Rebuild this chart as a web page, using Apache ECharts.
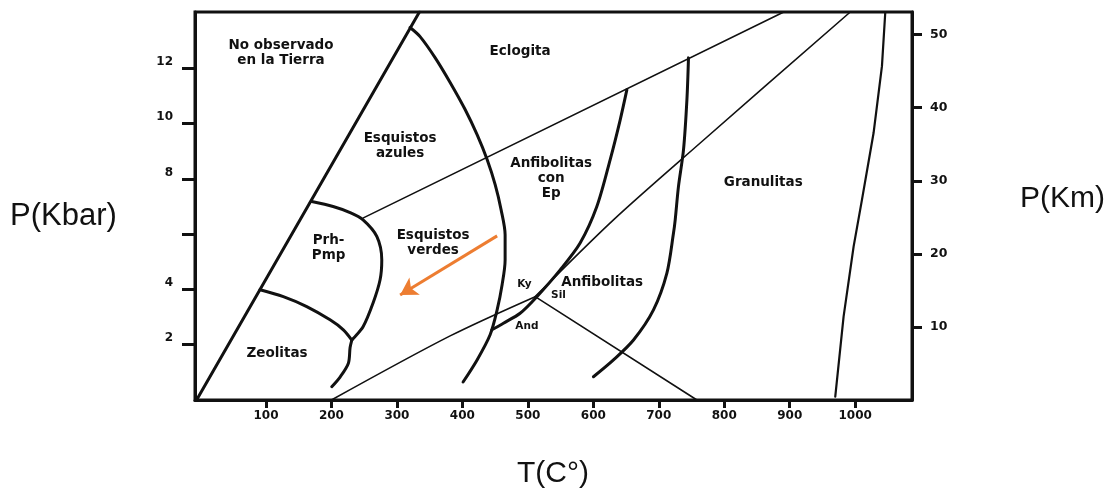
<!DOCTYPE html>
<html>
<head>
<meta charset="utf-8">
<script src="https://cdn.jsdelivr.net/npm/echarts@6/dist/echarts.min.js"></script>
<style>
  html, body { margin: 0; padding: 0; background: #fff; }
  #chart { width: 1113px; height: 493px; }
</style>
</head>
<body>
<div id="chart"></div>
<script>
// Axis ticks
const tempTicks = [100, 200, 300, 400, 500, 600, 700, 800, 900, 1000];
const kbarTicks = [2, 4, 6, 8, 10, 12];
const kbarLabels = [2, 4, 8, 10, 12];
const kmTicks = [10, 20, 30, 40, 50];

// Facies boundaries, points as [T (°C), P (kbar)]
const earthLimit = [[-6, 0], [334.4, 14.04]];
const eclogiteBoundary = [
  [320.1, 13.48], [335.4, 13.15], [358.3, 12.39], [381.3, 11.49], [404.2, 10.51],
  [422.5, 9.60], [437.8, 8.70], [450.1, 7.79], [459.2, 6.88], [465.3, 5.98],
  [465.3, 5.07], [460.7, 4.17], [453.1, 3.26], [442.4, 2.36], [422.5, 1.45], [401.1, 0.65]
];
const prhPmpUpper = [
  [169.9, 7.18], [202.5, 7.00], [228.5, 6.78], [248.3, 6.52], [269.3, 5.92],
  [276.9, 5.07], [274.3, 4.35], [263.6, 3.51], [248.3, 2.65], [231.1, 2.17]
];
const prhPmpLower = [[231.1, 2.17], [228.5, 1.90], [225.9, 1.33], [213.2, 0.83], [200.5, 0.48]];
const zeoliteBoundary = [
  [90.9, 3.99], [126.5, 3.74], [162.3, 3.38], [197.9, 2.90], [218.2, 2.54], [231.1, 2.17]
];
const blueschistLimit = [[248.8, 6.59], [890.9, 14.04]];
const amphiboliteBoundary = [
  [445.0, 2.54], [462.7, 2.78], [488.2, 3.14], [513.8, 3.74], [549.4, 4.71],
  [579.9, 5.68], [605.4, 7.00], [625.8, 8.70], [641.1, 10.14], [651.3, 11.23]
];
const granuliteBoundary = [
  [745.4, 12.38], [743.0, 10.87], [737.8, 9.06], [730.1, 7.73], [725.1, 6.52],
  [722.5, 6.04], [712.4, 4.59], [691.9, 3.26], [661.4, 2.17], [630.8, 1.45], [600.2, 0.84]
];
const meltingLimit = [
  [1046.0, 14.04], [1040.9, 12.08], [1028.1, 9.66], [1010.4, 7.25],
  [997.6, 5.55], [982.3, 3.02], [969.6, 0.12]
];

// Al2SiO5 polymorph reactions
const andKy = [[200, 0], [381.3, 2.32], [511.2, 3.74]];
const andSil = [[511.2, 3.74], [758.3, 0]];
const kySil = [[511.2, 3.74], [630.8, 6.52], [763.3, 9.30], [992.5, 14.04]];

// Retrograde path arrow: start, end
const pathStart = [453.1, 5.94];
const pathEnd = [304.9, 3.80];

// Field names: [text, T, P]
const faciesLabels = [
  ['No observado\nen la Tierra', 123.0, 12.55],
  ['Eclogita', 488.2, 12.61],
  ['Esquistos\nazules', 304.9, 9.20],
  ['Anfibolitas\ncon\nEp', 535.6, 8.03],
  ['Esquistos\nverdes', 355.3, 5.67],
  ['Prh-\nPmp', 195.6, 5.51],
  ['Zeolitas', 116.9, 1.70],
  ['Granulitas', 859.6, 7.88],
  ['Anfibolitas', 613.5, 4.24]
];
const mineralLabels = [
  ['Ky', 494.8, 4.17],
  ['Sil', 546.8, 3.80],
  ['And', 498.5, 2.68]
];

const INK = '#111';
const tickFont = function (size) {
  return { fontFamily: 'DejaVu Sans', fontWeight: 'bold', fontSize: size, color: '#111', formatter: function (v) { return String(v); } };
};

function boundary(data, width, smooth) {
  return {
    type: 'line', data: data, symbol: 'none', showSymbol: false,
    smooth: smooth, silent: true, z: 3,
    lineStyle: { color: INK, width: width, cap: 'round', join: 'round' }
  };
}

function textLayer(items, fontSize) {
  return {
    type: 'scatter', silent: true, z: 5,
    symbolSize: 1, itemStyle: { color: 'rgba(0,0,0,0)', opacity: 1 },
    data: items.map(function (d) { return { name: d[0], value: [d[1], d[2]] }; }),
    label: {
      show: true, position: 'inside', formatter: '{b}', align: 'center',
      fontFamily: 'DejaVu Sans', fontWeight: 'bold', fontSize: fontSize,
      lineHeight: 15, color: '#111', opacity: 1
    }
  };
}

const chart = echarts.init(document.getElementById('chart'), null, { renderer: 'canvas' });

chart.setOption({
  animation: false,
  backgroundColor: '#fff',
  grid: {
    left: 195, right: 201, top: 12, bottom: 93,
    show: true, borderColor: INK, borderWidth: 3, backgroundColor: 'transparent'
  },
  xAxis: {
    type: 'value', min: -8.4, max: 1086.8,
    axisLine: { show: true, onZero: false, lineStyle: { color: INK, width: 3 } },
    axisTick: { show: true, customValues: tempTicks, length: 8, lineStyle: { color: INK, width: 3 } },
    axisLabel: Object.assign({ customValues: tempTicks, margin: 10 }, tickFont(12)),
    splitLine: { show: false }
  },
  yAxis: [
    {
      type: 'value', position: 'left', min: 0, max: 14.04,
      axisLine: { show: true, onZero: false, lineStyle: { color: INK, width: 3 } },
      axisTick: { show: true, customValues: kbarTicks, length: 13, lineStyle: { color: INK, width: 3 } },
      axisLabel: Object.assign({ customValues: kbarLabels, margin: 22, verticalAlign: 'bottom', lineHeight: 13 }, tickFont(12)),
      splitLine: { show: false }
    },
    {
      type: 'value', position: 'right', min: 0, max: 53.1,
      axisLine: { show: true, onZero: false, lineStyle: { color: INK, width: 3 } },
      axisTick: { show: true, customValues: kmTicks, length: 10, lineStyle: { color: INK, width: 3 } },
      axisLabel: Object.assign({ customValues: kmTicks, margin: 18 }, tickFont(12.5)),
      splitLine: { show: false }
    }
  ],
  graphic: [
    { type: 'text', x: 10, y: 216, style: { text: 'P(Kbar)', fontFamily: 'Liberation Sans', fontSize: 31, fill: INK, align: 'left', verticalAlign: 'middle' } },
    { type: 'text', x: 1020, y: 199, style: { text: 'P(Km)', fontFamily: 'Liberation Sans', fontSize: 30, fill: INK, align: 'left', verticalAlign: 'middle' } },
    { type: 'text', x: 553, y: 474, style: { text: 'T(C°)', fontFamily: 'Liberation Sans', fontSize: 30, fill: INK, align: 'center', verticalAlign: 'middle' } }
  ],
  series: [
    boundary(earthLimit, 3, false),
    boundary(eclogiteBoundary, 3, 0.3),
    boundary(prhPmpUpper, 3, 0.3),
    boundary(prhPmpLower, 3, 0.3),
    boundary(zeoliteBoundary, 3, 0.3),
    boundary(blueschistLimit, 1.6, false),
    boundary(amphiboliteBoundary, 3, 0.3),
    boundary(granuliteBoundary, 3, 0.3),
    boundary(meltingLimit, 2.2, false),
    boundary(andKy, 1.6, 0.3),
    boundary(andSil, 1.6, false),
    boundary(kySil, 1.6, 0.3),
    {
      type: 'line', data: [], silent: true, z: 4,
      markLine: {
        silent: true, animation: false,
        symbol: ['none', 'arrow'], symbolSize: [15, 17],
        label: { show: false },
        lineStyle: { color: '#ED7D31', width: 3, type: 'solid' },
        emphasis: { disabled: true },
        data: [[{ coord: pathStart }, { coord: pathEnd }]]
      }
    },
    textLayer(faciesLabels, 13.5),
    textLayer(mineralLabels, 10.5)
  ]
});
</script>
</body>
</html>
